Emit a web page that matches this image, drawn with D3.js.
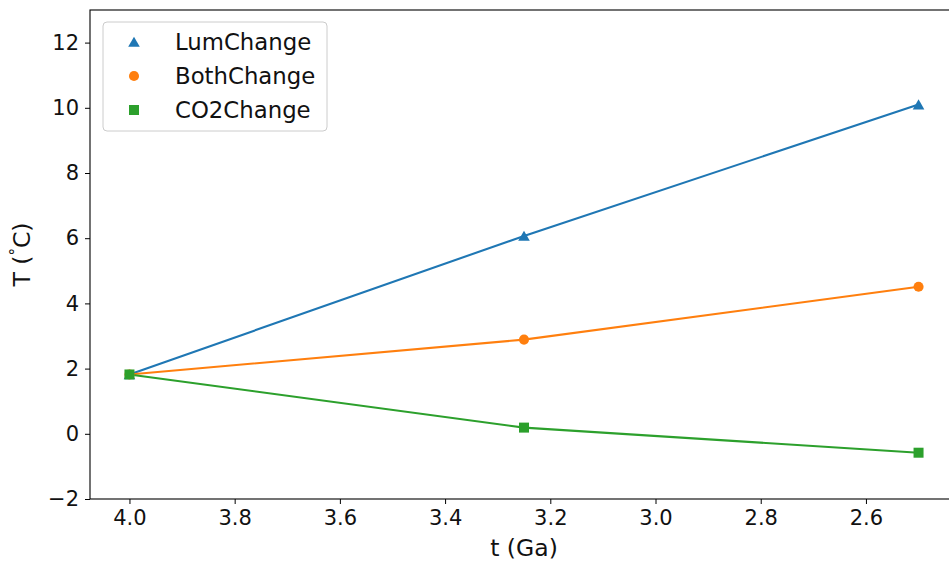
<!DOCTYPE html>
<html>
<head>
<meta charset="utf-8">
<script src="https://cdn.jsdelivr.net/npm/d3@7/dist/d3.min.js"></script>
<style>
  html, body { margin: 0; padding: 0; background: #fff; overflow: hidden; }
  svg { display: block; font-family: "DejaVu Sans", sans-serif; }
</style>
</head>
<body>
<svg id="chart" width="949" height="563"></svg>
<script>
// Age before present (Ga) for each model run
const ages = [4.0, 3.25, 2.5];

// Temperature change (°C) for each scenario
const lumChange  = [1.82, 6.07, 10.10];
const bothChange = [1.82, 2.89, 4.51];
const co2Change  = [1.82, 0.19, -0.58];

const seriesNames = ["LumChange", "BothChange", "CO2Change"];
const xTicks = [4.0, 3.8, 3.6, 3.4, 3.2, 3.0, 2.8, 2.6];
const yTicks = [-2, 0, 2, 4, 6, 8, 10, 12];

const colors = ["#1f77b4", "#ff7f0e", "#2ca02c"];
const symbols = [d3.symbolTriangle, d3.symbolCircle, d3.symbolSquare];
const markerSizes = [58, 80, 100];
const values = [lumChange, bothChange, co2Change];
const textColor = "#111";

const svg = d3.select("#chart");
const plotL = 90, plotT = 10, plotR = 958, plotB = 499;

// time axis runs backwards: older ages on the left
const x = d3.scaleLinear().domain([4.075, 2.425]).range([plotL, plotR]);
const y = d3.scaleLinear().domain([-2, 13]).range([plotB, plotT]);

// axes
const xAxis = svg.append("g")
  .attr("transform", `translate(0,${plotB})`)
  .call(d3.axisBottom(x).tickValues(xTicks).tickFormat(d3.format(".1f")).tickSize(5).tickPadding(6));
const yAxis = svg.append("g")
  .attr("transform", `translate(${plotL},0)`)
  .call(d3.axisLeft(y).tickValues(yTicks).tickFormat(d => d < 0 ? "\u2212" + Math.abs(d) : d).tickSize(5).tickPadding(6));

[xAxis, yAxis].forEach(a => {
  a.select(".domain").remove();
  a.selectAll(".tick line").attr("stroke", "#000").attr("stroke-width", 1);
  a.selectAll(".tick text").attr("fill", textColor).attr("font-size", 21)
    .attr("font-family", "DejaVu Sans, sans-serif");
});

// frame (right edge falls just outside the canvas)
svg.append("rect")
  .attr("x", plotL).attr("y", plotT)
  .attr("width", plotR - plotL).attr("height", plotB - plotT)
  .attr("fill", "none").attr("stroke", "#000").attr("stroke-width", 1.1);

// lines and markers
const line = d3.line().x((d, i) => x(ages[i])).y(d => y(d));

values.forEach((vals, s) => {
  svg.append("path")
    .datum(vals)
    .attr("d", line)
    .attr("fill", "none")
    .attr("stroke", colors[s])
    .attr("stroke-width", 2.1);
});

values.forEach((vals, s) => {
  svg.append("g").selectAll("path")
    .data(vals)
    .join("path")
    .attr("transform", (d, i) => `translate(${x(ages[i])},${y(d) + (s === 0 ? 1.5 : 0)})`)
    .attr("d", d3.symbol().type(symbols[s]).size(markerSizes[s]))
    .attr("fill", colors[s]);
});

// axis titles
svg.append("text")
  .attr("x", 524).attr("y", 556)
  .attr("text-anchor", "middle")
  .attr("font-size", 23.5).attr("fill", textColor)
  .text("t (Ga)");

const yl = svg.append("text")
  .attr("transform", `translate(30,${(plotT + plotB) / 2}) rotate(-90)`)
  .attr("text-anchor", "middle")
  .attr("font-size", 23.5).attr("fill", textColor);
yl.append("tspan").text("T (");
yl.append("tspan").attr("font-size", 15).attr("dy", -9).text("\u00b0");
yl.append("tspan").attr("dy", 9).text("C)");

// legend
const lg = svg.append("g");
lg.append("rect")
  .attr("x", 103).attr("y", 22).attr("width", 224).attr("height", 109)
  .attr("rx", 4).attr("fill", "#fff").attr("fill-opacity", 0.8)
  .attr("stroke", "#cccccc").attr("stroke-width", 1);

seriesNames.forEach((name, s) => {
  const cy = 42 + s * 34;
  lg.append("path")
    .attr("transform", `translate(134,${cy + (s === 0 ? 1.5 : 0)})`)
    .attr("d", d3.symbol().type(symbols[s]).size(markerSizes[s]))
    .attr("fill", colors[s]);
  lg.append("text")
    .attr("x", 175).attr("y", cy + 8)
    .attr("font-size", 22.8).attr("fill", textColor)
    .text(name);
});
</script>
</body>
</html>
